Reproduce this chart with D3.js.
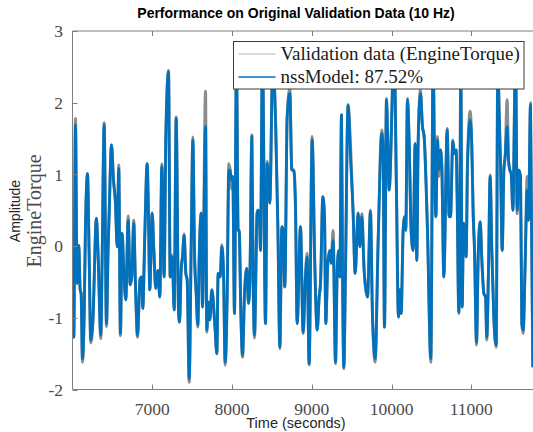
<!DOCTYPE html>
<html>
<head>
<meta charset="utf-8">
<script src="https://cdn.jsdelivr.net/npm/d3@7"></script>
<style>
  body { margin: 0; background: #fff; }
  svg { display: block; }
</style>
</head>
<body>
<svg id="chart" width="533" height="432"></svg>
<script>
// values (time in seconds, amplitude)
const timeSec = [
  6000, 6016, 6037, 6058, 6079, 6096, 6108, 6125, 6146, 6162, 6188, 6208, 6229, 6254, 6300, 6321, 6355, 6371, 6397, 6426,
  6447, 6459, 6489, 6514, 6539, 6560, 6580, 6601, 6622, 6643, 6668, 6698, 6723, 6743, 6768, 6789, 6815, 6848, 6869, 6881,
  6906, 6936, 6953, 6969, 6999, 7020, 7044, 7070, 7095, 7120, 7149, 7170, 7204, 7225, 7245, 7258, 7275, 7300, 7329, 7342,
  7362, 7379, 7400, 7421, 7438, 7463, 7488, 7509, 7530, 7551, 7571, 7592, 7613, 7630, 7668, 7684, 7705, 7722, 7747, 7789,
  7810, 7826, 7852, 7872, 7893, 7914, 7939, 7960, 7977, 7994, 8010, 8031, 8056, 8077, 8090, 8111, 8132, 8157, 8186, 8207,
  8224, 8249, 8265, 8282, 8315, 8328, 8345, 8357, 8382, 8420, 8441, 8457, 8474, 8512, 8549, 8575, 8600, 8625, 8641, 8662,
  8692, 8725, 8750, 8775, 8796, 8817, 8859, 8892, 8921, 8942, 8967, 9005, 9038, 9068, 9093, 9110, 9139, 9160, 9176, 9201,
  9227, 9243, 9268, 9298, 9319, 9340, 9352, 9373, 9385, 9402, 9423, 9455, 9490, 9519, 9544, 9582, 9603, 9628, 9657, 9699,
  9736, 9761, 9795, 9832, 9878, 9895, 9912, 9937, 9954, 9970, 10033, 10062, 10087, 10104, 10121, 10146, 10163, 10179, 10200, 10221,
  10246, 10271, 10296, 10317, 10334, 10363, 10388, 10409, 10451, 10493, 10522, 10539, 10556, 10577, 10591, 10614, 10631, 10656, 10698, 10723,
  10740, 10769, 10790, 10811, 10823, 10844, 10857, 10869, 10886, 10903, 10920, 10936, 10953, 10986, 11007, 11024, 11041, 11066, 11087, 11112,
  11133, 11158, 11179, 11195, 11216, 11237, 11258, 11283, 11313, 11333, 11350, 11367, 11388, 11409, 11425, 11450, 11467, 11484, 11501, 11522,
  11555, 11576, 11597, 11618, 11634, 11651, 11676, 11701, 11718, 11743, 11772
];

const modelFit = [
  -0.43, -1.27, 1.69, -0.52, 0.01, -0.61, -0.66, -1.57, -0.96, 0.22, 1.01, -0.08, -1.31, -1.08, 0.39, -0.13, -1.24, -0.24, 1.69, -1.08,
  -0.01, 0.43, 1.41, 0.92, 0.60, -0.01, 1.08, -1.22, 0.18, -0.34, -0.75, 0.36, -0.54, -0.43, 0.32, -0.52, -1.24, -0.45, -0.43, -0.87,
  0.13, 1.15, 0.41, -0.61, 0.46, -0.06, -0.59, -0.34, -0.71, 1.11, -0.43, 1.48, 2.43, -0.43, -0.15, -0.34, -0.89, 1.78, -0.89, -1.06,
  -0.34, -0.15, 0.15, -0.38, -0.47, -1.85, -0.01, 1.48, -0.10, -0.66, -1.10, -0.01, 0.46, -0.85, 1.67, -1.17, -0.78, -1.03, -0.61, -1.17,
  -1.50, -0.38, -0.43, -0.01, -0.34, -1.62, -0.71, 1.06, 1.06, 0.92, 0.97, -0.94, 2.60, 0.22, 0.22, -0.94, -1.52, -0.66, -0.31, -0.80,
  -0.47, 1.53, -0.47, -1.24, 0.46, 0.50, 0.41, -0.06, 2.70, -1.08, 1.15, 1.01, 0.60, 2.60, 1.62, 0.27, -1.41, 0.27, 0.22, -0.57,
  1.81, 2.13, 1.06, 1.06, 0.55, -1.08, 0.27, -1.20, -0.43, -0.15, -1.64, 1.48, -0.24, -1.17, -0.71, -0.52, 0.69, 0.41, -1.08, -0.24,
  -0.06, -0.24, 0.08, -1.62, -0.34, -0.06, -0.43, 1.83, -0.20, -1.69, -0.34, 1.97, 1.15, 0.46, -0.38, 0.46, -0.01, 0.41, -0.34, -0.71,
  0.48, -0.94, -1.57, 0.04, 1.57, 1.34, -1.13, 2.04, 1.43, 0.78, 2.70, 0.78, -0.99, -0.61, -0.94, 0.22, 0.41, 0.22, 2.04, 1.48,
  0.22, -0.06, 1.43, -0.20, 1.43, 2.13, 1.67, 1.53, 0.22, -1.57, 2.60, 1.25, 0.41, 1.48, 1.06, 1.34, 1.11, -0.43, 1.62, 0.41,
  0.41, 1.46, 1.29, 1.34, 0.69, -0.92, 0.32, 2.50, -0.85, 0.32, 0.13, -0.15, 1.15, 1.76, 1.39, 0.46, -0.06, -1.34, -0.15, 0.34,
  -0.20, -0.66, -0.71, -1.27, -0.34, 0.97, -0.06, -0.99, -1.38, 2.60, 1.85, 1.15, -0.06, 1.06, 1.25, 1.67, 1.20, 1.06, 1.01, 0.50,
  2.70, 0.50, 1.06, 0.97, -1.08, -1.17, -0.24, 0.78, 0.36, 1.97, -1.69
];

const validationData = [
  -0.43, -1.27, 1.78, -0.52, 0.01, -0.61, -0.66, -1.62, -0.96, 0.22, 1.01, -0.08, -1.35, -1.08, 0.39, -0.13, -1.29, -0.24, 1.72, -1.12,
  -0.01, 0.43, 1.41, 0.92, 0.60, -0.01, 1.13, -1.25, 0.18, -0.34, -0.75, 0.42, -0.54, -0.43, 0.36, -0.52, -1.27, -0.45, -0.43, -0.87,
  0.13, 1.15, 0.41, -0.61, 0.46, -0.06, -0.59, -0.34, -0.71, 1.15, -0.43, 1.55, 2.45, -0.43, -0.12, -0.34, -0.89, 1.80, -0.89, -1.06,
  -0.34, -0.15, 0.17, -0.38, -0.47, -1.90, -0.01, 1.52, -0.10, -0.66, -1.13, -0.01, 0.46, -0.85, 2.16, -1.20, -0.78, -1.03, -0.61, -1.17,
  -1.50, -0.38, -0.43, 0.02, -0.34, -1.66, -0.71, 1.15, 1.06, 0.80, 0.97, -0.94, 2.60, 0.22, 0.22, -0.94, -1.55, -0.66, -0.31, -0.80,
  -0.47, 1.55, -0.47, -1.28, 0.46, 0.50, 0.41, -0.06, 2.70, -1.08, 1.18, 1.01, 0.60, 2.60, 1.62, 0.27, -1.43, 0.27, 0.22, -0.57,
  1.81, 2.20, 1.06, 1.06, 0.55, -1.08, 0.27, -1.22, -0.43, -0.10, -1.66, 1.53, -0.24, -1.17, -0.71, -0.52, 0.69, 0.41, -1.08, -0.24,
  -0.06, -0.24, 0.22, -1.64, -0.34, -0.06, -0.43, 1.83, -0.20, -1.71, -0.34, 1.97, 1.30, 0.46, -0.38, 0.46, -0.01, 0.45, -0.34, -0.71,
  0.50, -0.94, -1.62, 0.04, 1.62, 1.34, -1.13, 2.06, 1.43, 0.78, 2.70, 0.78, -0.99, -0.61, -0.94, 0.22, 0.41, 0.22, 2.06, 1.48,
  0.22, -0.06, 1.43, -0.20, 1.43, 2.18, 1.67, 1.53, 0.22, -1.62, 2.60, 1.25, 0.41, 1.53, 0.97, 1.34, 1.11, -0.43, 1.64, 0.41,
  0.41, 1.48, 1.29, 1.34, 0.69, -0.94, 0.32, 2.50, -0.85, 0.32, 0.13, -0.15, 1.15, 1.88, 1.39, 0.46, -0.06, -1.38, -0.15, 0.34,
  -0.20, -0.66, -0.71, -1.31, -0.34, 0.99, -0.06, -0.99, -1.41, 2.60, 1.85, 1.15, -0.06, 1.06, 1.25, 2.04, 1.20, 1.06, 1.01, 0.50,
  2.70, 0.45, 1.06, 0.95, -1.08, -1.22, -0.24, 0.97, 0.36, 2.00, -1.69
];

const xTicks = [7000, 8000, 9000, 10000, 11000];
const yTicks = [-2, -1, 0, 1, 2, 3];
const seriesNames = ['Validation data (EngineTorque)', 'nssModel: 87.52%'];

const serif = '"Liberation Serif", "Times New Roman", serif';
const sans = '"Liberation Sans", Arial, Helvetica, sans-serif';
const blue = '#0072bd';
const grey = '#8c8c8c';

const plotLeft = 72.5, plotTop = 31, plotBottom = 389.5;
const svg = d3.select('#chart');

const x = d3.scaleLinear().domain([6000, 11900]).range([plotLeft, plotLeft + 5.9 * 79.75]);
const y = d3.scaleLinear().domain([-2, 3]).range([plotBottom, plotTop]);

// clip so the trace stops at the axes
svg.append('clipPath')
    .attr('id', 'plotClip')
  .append('rect')
    .attr('x', plotLeft)
    .attr('y', plotTop)
    .attr('width', 600)
    .attr('height', plotBottom - plotTop);

const line = d3.line()
    .x(d => x(d[0]))
    .y(d => y(d[1]))
    .curve(d3.curveMonotoneX);

const plot = svg.append('g').attr('clip-path', 'url(#plotClip)');

plot.append('path')
    .datum(timeSec.map((t, i) => [t, validationData[i]]))
    .attr('d', line)
    .attr('fill', 'none')
    .attr('stroke', grey)
    .attr('stroke-width', 3)
    .attr('stroke-linejoin', 'round');

plot.append('path')
    .datum(timeSec.map((t, i) => [t, modelFit[i]]))
    .attr('d', line)
    .attr('fill', 'none')
    .attr('stroke', blue)
    .attr('stroke-width', 2.8)
    .attr('stroke-linejoin', 'round');

// box: left, bottom and top edges (right edge is off the picture)
const axisColor = '#7f7f7f';
svg.append('path')
    .attr('d', `M${x.range()[1]},${plotTop}H${plotLeft}V${plotBottom}H${x.range()[1]}`)
    .attr('fill', 'none')
    .attr('stroke', axisColor)
    .attr('stroke-width', 1);

// x ticks (inward, top and bottom)
const xt = svg.append('g');
xTicks.forEach(t => {
    const px = Math.round(x(t)) + 0.5;
    xt.append('line').attr('x1', px).attr('x2', px).attr('y1', plotBottom).attr('y2', plotBottom - 5)
        .attr('stroke', axisColor);
    xt.append('line').attr('x1', px).attr('x2', px).attr('y1', plotTop).attr('y2', plotTop + 5)
        .attr('stroke', axisColor);
    xt.append('text')
        .attr('x', x(t))
        .attr('y', 414.5)
        .attr('text-anchor', 'middle')
        .style('font-family', serif)
        .style('font-size', '17.5px')
        .attr('fill', '#4a4a4a')
        .text(t);
});

// y ticks
const yt = svg.append('g');
yTicks.forEach(v => {
    const py = Math.round(y(v)) + 0.5;
    yt.append('line').attr('x1', plotLeft).attr('x2', plotLeft + 5).attr('y1', py).attr('y2', py)
        .attr('stroke', axisColor);
    yt.append('text')
        .attr('x', 63)
        .attr('y', y(v))
        .attr('dy', '0.35em')
        .attr('text-anchor', 'end')
        .style('font-family', serif)
        .style('font-size', '17.5px')
        .attr('fill', '#4a4a4a')
        .text(v);
});

// title and axis labels
svg.append('text')
    .attr('x', 296)
    .attr('y', 17.5)
    .attr('text-anchor', 'middle')
    .style('font-family', sans)
    .style('font-weight', 'bold')
    .style('font-size', '14px')
    .attr('fill', '#000')
    .text('Performance on Original Validation Data (10 Hz)');

svg.append('text')
    .attr('x', 296)
    .attr('y', 428)
    .attr('text-anchor', 'middle')
    .style('font-family', sans)
    .style('font-size', '14.5px')
    .attr('fill', '#262626')
    .text('Time (seconds)');

svg.append('text')
    .attr('transform', 'translate(20,211) rotate(-90)')
    .attr('text-anchor', 'middle')
    .style('font-family', sans)
    .style('font-size', '14px')
    .attr('fill', '#262626')
    .text('Amplitude');

svg.append('text')
    .attr('transform', 'translate(41,211) rotate(-90)')
    .attr('text-anchor', 'middle')
    .style('font-family', serif)
    .style('font-size', '20px')
    .attr('fill', '#4a4a4a')
    .text('EngineTorque');

// legend
const legend = svg.append('g').attr('transform', 'translate(233.5,41.5)');
legend.append('rect')
    .attr('width', 290.5)
    .attr('height', 47.5)
    .attr('fill', '#fff')
    .attr('stroke', '#3a3a3a')
    .attr('stroke-width', 1);

const legendColors = [['#b3b3b3', 1.2], [blue, 1.4]];
seriesNames.forEach((name, i) => {
    const ly = 12.5 + i * 23;
    legend.append('line')
        .attr('x1', 5).attr('x2', 42)
        .attr('y1', ly).attr('y2', ly)
        .attr('stroke', legendColors[i][0])
        .attr('stroke-width', legendColors[i][1]);
    legend.append('text')
        .attr('x', 47)
        .attr('y', ly + 6)
        .style('font-family', serif)
        .style('font-size', '19px')
        .attr('fill', '#1a1a1a')
        .text(name);
});
</script>
</body>
</html>
